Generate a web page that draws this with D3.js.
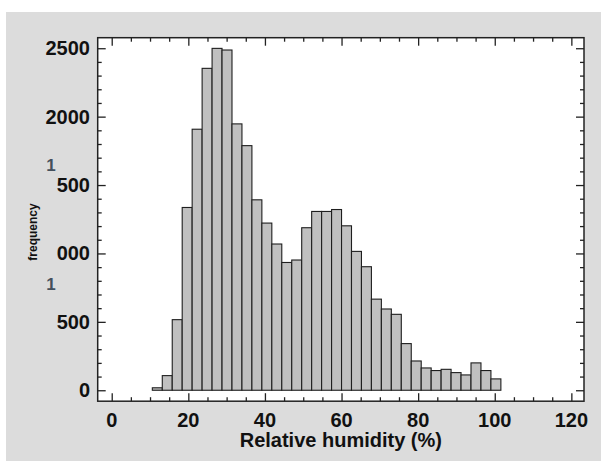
<!DOCTYPE html>
<html>
<head>
<meta charset="utf-8">
<script src="https://cdn.jsdelivr.net/npm/d3@7"></script>
<style>
  body { margin: 0; background: #fff; }
  svg { display: block; }
</style>
</head>
<body>
<svg id="chart"></svg>
<script>
// histogram bins: first edge and width (in % RH)
const binStart = 10.6;
const binWidth = 2.6;
const counts = [18, 107, 516, 1336, 1908, 2353, 2499, 2487, 1947, 1788,
                1392, 1222, 1069, 934, 952, 1188, 1307, 1307, 1321, 1202,
                1015, 903, 666, 594, 555, 341, 214, 163, 144, 153,
                129, 112, 200, 144, 83];
const xTicks = [0, 20, 40, 60, 80, 100, 120];
const yTicks = [0, 500, 1000, 1500, 2000, 2500];
// how the y labels actually show up in the picture (the "1" is drawn apart)
const yTickText = ["0", "500", "000", "500", "2000", "2500"];
const strayOnes = [{ value: 1500, dy: -20 }, { value: 1000, dy: 31 }];

const width = 601, height = 461;
const frame = { left: 97.7, right: 584, top: 37.7, bottom: 401.2 };

const svg = d3.select("#chart")
    .attr("width", width)
    .attr("height", height);

// gray panel
svg.append("rect")
    .attr("x", 6).attr("y", 12)
    .attr("width", width - 6).attr("height", height - 12)
    .attr("fill", "#dcdcdc");

const x = d3.scaleLinear()
    .domain([-3.66, 123.3])
    .range([frame.left, frame.right]);

const y = d3.scaleLinear()
    .domain([-80, 2577])
    .range([frame.bottom, frame.top]);

svg.append("rect")
    .attr("x", frame.left).attr("y", frame.top)
    .attr("width", frame.right - frame.left)
    .attr("height", frame.bottom - frame.top)
    .attr("fill", "#fff");

// bars
svg.selectAll(".bar")
    .data(counts)
    .join("rect")
    .attr("class", "bar")
    .attr("x", (d, i) => x(binStart + i * binWidth))
    .attr("y", d => y(d))
    .attr("width", x(binWidth) - x(0))
    .attr("height", d => y(0) - y(d))
    .attr("fill", "#c0c0c0")
    .attr("stroke", "#1e1e1e")
    .attr("stroke-width", 1.1);

// axes, ticks pointing inward on all sides
const major = 8, minor = 4;
const xMinor = d3.range(0, 121, 5).filter(v => v % 20 !== 0);
const yMinor = d3.range(0, 2501, 100).filter(v => v % 500 !== 0);

function tickAxis(axisFn, scale, vals, size, pos) {
    const g = svg.append("g")
        .attr("transform", pos)
        .call(axisFn(scale).tickValues(vals).tickSize(size).tickFormat(""));
    g.select(".domain").remove();
    g.selectAll("line").attr("stroke", "#222").attr("stroke-width", 1.3);
    return g;
}

tickAxis(d3.axisTop, x, xTicks, major, `translate(0,${frame.bottom})`);
tickAxis(d3.axisTop, x, xMinor, minor, `translate(0,${frame.bottom})`);
tickAxis(d3.axisBottom, x, xTicks, major, `translate(0,${frame.top})`);
tickAxis(d3.axisBottom, x, xMinor, minor, `translate(0,${frame.top})`);
tickAxis(d3.axisRight, y, yTicks, major, `translate(${frame.left},0)`);
tickAxis(d3.axisRight, y, yMinor, minor, `translate(${frame.left},0)`);
tickAxis(d3.axisLeft, y, yTicks, major, `translate(${frame.right},0)`);
tickAxis(d3.axisLeft, y, yMinor, minor, `translate(${frame.right},0)`);

svg.append("rect")
    .attr("x", frame.left).attr("y", frame.top)
    .attr("width", frame.right - frame.left)
    .attr("height", frame.bottom - frame.top)
    .attr("fill", "none")
    .attr("stroke", "#222")
    .attr("stroke-width", 1.5);

// tick labels
const font = "'Liberation Sans', Arial, sans-serif";

svg.selectAll(".xlab")
    .data(xTicks)
    .join("text")
    .attr("class", "xlab")
    .attr("x", d => x(d))
    .attr("y", 427)
    .attr("text-anchor", "middle")
    .attr("font-family", font)
    .attr("font-weight", "bold")
    .attr("font-size", "20px")
    .attr("fill", "#111")
    .text(d => d);

svg.selectAll(".ylab")
    .data(yTicks)
    .join("text")
    .attr("class", "ylab")
    .attr("x", 90)
    .attr("y", d => y(d))
    .attr("dy", "0.35em")
    .attr("text-anchor", "end")
    .attr("font-family", font)
    .attr("font-weight", "bold")
    .attr("font-size", "20px")
    .attr("fill", "#111")
    .text((d, i) => yTickText[i]);

svg.selectAll(".one")
    .data(strayOnes)
    .join("text")
    .attr("class", "one")
    .attr("x", 51)
    .attr("y", d => y(d.value) + d.dy)
    .attr("dy", "0.35em")
    .attr("text-anchor", "middle")
    .attr("font-family", font)
    .attr("font-weight", "bold")
    .attr("font-size", "17px")
    .attr("fill", "#44505c")
    .text("1");

// axis titles
svg.append("text")
    .attr("x", (frame.left + frame.right) / 2)
    .attr("y", 447)
    .attr("text-anchor", "middle")
    .attr("font-family", font)
    .attr("font-weight", "bold")
    .attr("font-size", "20px")
    .attr("fill", "#111")
    .text("Relative humidity (%)");

svg.append("text")
    .attr("transform", "translate(37,232) rotate(-90)")
    .attr("text-anchor", "middle")
    .attr("font-family", font)
    .attr("font-weight", "bold")
    .attr("font-size", "12px")
    .attr("fill", "#111")
    .text("frequency");
</script>
</body>
</html>
